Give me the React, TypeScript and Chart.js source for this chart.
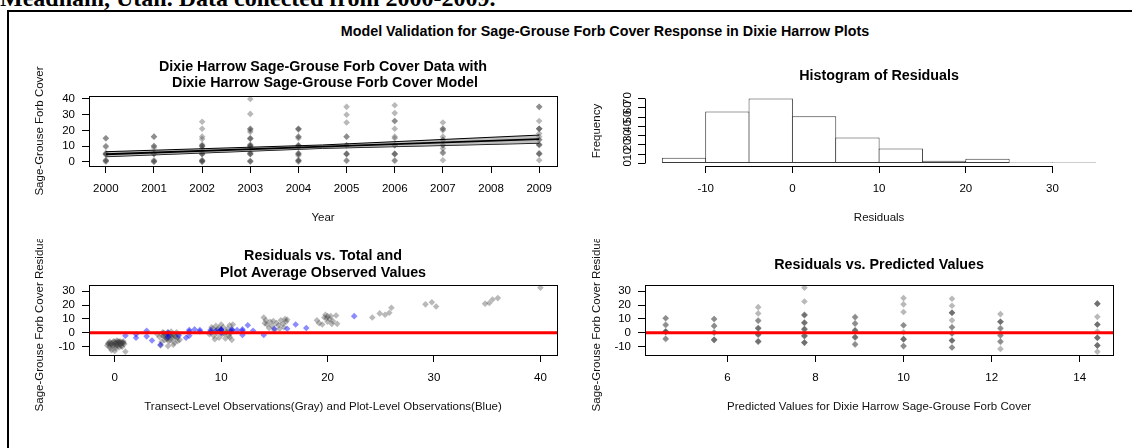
import React, { useEffect, useRef } from "react";
import { Chart, registerables } from "chart.js";

Chart.register(...registerables);

// ---------------- text ----------------
const HEADER_TEXT = "Meadham, Utah. Data collected from 2000-2009.";
const MAIN_TITLE = "Model Validation for Sage-Grouse Forb Cover Response in Dixie Harrow Plots";

const P1_TITLE = ["Dixie Harrow Sage-Grouse Forb Cover Data with", " Dixie Harrow Sage-Grouse Forb Cover Model"];
const P1_X_TITLE = "Year";
const P1_Y_TITLE = "Sage-Grouse Forb Cover";
const P2_TITLE = ["Histogram of Residuals"];
const P2_X_TITLE = "Residuals";
const P2_Y_TITLE = "Frequency";
const P3_TITLE = ["Residuals vs. Total and", "Plot Average Observed Values"];
const P3_X_TITLE = "Transect-Level Observations(Gray) and Plot-Level Observations(Blue)";
const P3_Y_TITLE = "Sage-Grouse Forb Cover Residuals";
const P4_TITLE = ["Residuals vs. Predicted Values"];
const P4_X_TITLE = "Predicted Values for Dixie Harrow Sage-Grouse Forb Cover";
const P4_Y_TITLE = "Sage-Grouse Forb Cover Residuals";

// ---------------- ticks ----------------
const P1_X_TICKS = [2000, 2001, 2002, 2003, 2004, 2005, 2006, 2007, 2008, 2009];
const P1_Y_TICKS = [0, 10, 20, 30, 40];
const P2_X_TICKS = [-10, 0, 10, 20, 30];
const P2_Y_TICKS = [0, 10, 20, 30, 40, 50, 60, 70];
const P3_X_TICKS = [0, 10, 20, 30, 40];
const P3_Y_TICKS = [-10, 0, 10, 20, 30];
const P4_X_TICKS = [6, 8, 10, 12, 14];
const P4_Y_TICKS = [-10, 0, 10, 20, 30];

// ---------------- panel 1 data ----------------
const SURVEY_YEARS = [2000, 2001, 2002, 2003, 2004, 2005, 2006, 2007, 2009];
const COVER_2000 = [15, 15, 10, 9.5, 5.5, 5, 5, 4.5, 1, 1, 0.5, 0];
const COVER_2001 = [16, 16, 10, 10, 9, 5.5, 5, 5, 1, 0.5, 0, 0];
const COVER_2002 = [25.5, 21, 16, 14.5, 11, 10, 10, 10, 8.5, 6, 5, 5, 5, 1, 1, 0.5, 0, 0];
const COVER_2003 = [40, 30.5, 21, 21, 20, 19, 15, 15, 14.5, 11, 10.5, 10, 10, 9.5, 6, 5, 5, 5, 0.5, 0.5, 0];
const COVER_2004 = [21, 21, 20.5, 16, 16, 15, 10.5, 10.5, 10, 9.5, 5.5, 5, 5, 4, 1, 1, 0.5, 0];
const COVER_2005 = [35, 30, 25, 16, 16, 10.5, 10.5, 5, 5, 5, 1, 0.5];
const COVER_2006 = [36, 31, 26, 26, 21, 16, 15, 10.5, 10.5, 5, 5, 5, 1, 0.5];
const COVER_2007 = [25, 21, 21, 20, 16, 14, 14, 10.5, 10.5, 8.5, 6, 5.5, 1];
const COVER_2009 = [35, 35, 26, 21, 21, 21, 18, 16, 14, 14, 11, 11, 10.5, 5.5, 5, 5, 1];
const COVER_BY_YEAR = [COVER_2000, COVER_2001, COVER_2002, COVER_2003, COVER_2004, COVER_2005, COVER_2006, COVER_2007, COVER_2009];

const FIT_YEARS = [2000, 2004.5, 2009];
const FIT_COVER = [4.8, 9.6, 14.4];
const FIT_UPPER = [6.4, 10.7, 17.0];
const FIT_LOWER = [3.2, 8.5, 11.8];

// ---------------- panel 2 data ----------------
const HIST_BIN_CENTERS = [-12.5, -7.5, -2.5, 2.5, 7.5, 12.5, 17.5, 22.5, 27.5, 32.5];
const HIST_COUNTS = [6, 56, 70, 51, 28, 16, 3, 5, 1, 1];

// ---------------- panel 3 data ----------------
const TRANSECT_OBS = [
  -0.6, -0.5, -0.4, -0.3, -0.2, -0.1, 0, 0.1, 0.2, 0.3, 0.4, 0.5, 0.6, 0.7, 0.8, 0.9, 1.0, -0.7, 0.2, 0.5, -0.4, 0.6, 0, 0.3, -0.2, 0.8, 0.1, -0.5, 0.4, 0.7,
  -0.6, -0.3, 0, 0.2, 0.4, 0.6, 0.8, -0.1, 0.3, 0.5, -0.4, 0.1,
  4, 4.2, 4.3, 4.5, 4.6, 4.7, 4.8, 4.9, 5, 5, 5.1, 5.2, 5.3, 5.4, 5.5, 5.6, 5.7, 5.8, 5.9, 6, 6.1, 4.4, 5.5, 5, 4.6, 5.9, 5.2,
  4.5, 4.8, 5.1, 5.4, 5.7, 4.9, 5.3,
  9, 9.2, 9.3, 9.5, 9.6, 9.8, 10, 10, 10.1, 10.2, 10.4, 10.5, 10.6, 10.7, 10.8, 10.9, 11, 11, 9.4, 9.7, 10.3, 9.1, 10.8, 8.9, 11.1,
  9.5, 10, 10.5, 10.9, 9.8,
  14, 14.2, 14.3, 14.5, 14.6, 14.8, 15, 15.2, 15.4, 15.6, 15.8, 16, 16.1, 15.5, 14.1, 14.9, 15.9, 16.2,
  19, 19.2, 19.5, 19.7, 19.8, 20, 20, 20.2, 20.4, 20.5, 20.8, 20.9, 19.9, 20.3,
  24.2, 24.9, 25.4, 25.8, 26, 29.2, 29.8, 30.2, 34.8, 35.2, 35.5, 36, 40,
];
const TRANSECT_RESID = [
  -8, -10, -7, -12.5, -9, -6, -8, -11, -7, -9, -6.5, -8.5, -7, -10, -6, -8, -13.5, -9, -5.5, -6, -11, -9.5, -13, -7.5, -7, -7.5, -9.5, -6.5, -10.5, -7,
  -7.5, -8, -6.5, -8.5, -7.5, -8, -7, -9, -6, -7, -8.5, -7.5,
  -1, -3, -9, 0.5, -2, -5, -1, -4, 0, -3, -6, -2, 1, -4, -1, -7, -2.5, 0.5, -3.5, -1, -5, -6.5, -8.5, -9.5, 0, -6, -5,
  -2, -3, -1.5, -2.5, -3, -4.5, -1,
  1, 3, -2, 5, 0, -3.5, 2, 6, -1, 4, -4, 1, 3, -2, 5.5, 0, 2.5, -5, -4.5, 2.5, -0.5, 4, -3, -1, 6,
  1.5, 2, 0.5, 1, 3.5,
  11, 9, 6, 3.5, 8, 5, 2, 7, 5.5, 9, 6.5, 10, 8, 3, 7, 8.5, 4, 9.5,
  9, 7, 6, 11, 13, 12, 8, 10, 6.5, 8.5, 12.5, 6.5, 10.5, 12,
  11, 14, 13, 14.5, 18, 20.5, 22, 19, 21, 21.5, 24, 25, 32.5,
];
const PLOT_OBS = [1, 2, 2, 3, 3, 3.5, 4.3, 5, 5, 5, 6, 6.7, 7, 7, 7, 7.5, 8, 8, 9, 9, 9.5, 10, 10, 10, 11, 11, 11.5, 12, 12, 12, 12.5, 13, 14, 15, 16.2, 17, 18, 22.5];
const PLOT_RESID = [-2, -1, -3.5, 1.5, -2.5, -5.5, -8.5, -1, -3, 0.5, -2, -3.5, -2, 1, 2, 2.5, 1, 2, 2, 0.5, 1.5, 2, 0, 2.5, 1.5, 2.5, 2, 2.5, -1.5, 1.5, 5.5, 1.5, -1.5, 3, 3, 6, 3.5, 12];

// ---------------- panel 4 data ----------------
const PRED_LEVELS = [4.6, 5.7, 6.7, 7.75, 8.9, 10.0, 11.1, 12.2, 14.4];
const RESID_AT_4_6 = [10.5, 10.5, 6, 5.5, 1, 1, 1, 0.5, -4, -4.5];
const RESID_AT_5_7 = [10, 10, 5, 5, 0.5, 0, -5, -5, -5];
const RESID_AT_6_7 = [18.5, 14, 9, 8.5, 3.5, 3.5, 3, -1, -1, -1.5, -6, -6, -6.5];
const RESID_AT_7_75 = [32.5, 22.5, 13, 13, 12.5, 7.5, 7.5, 7, 3, 2.5, 2.5, -2, -2, -2.5, -7, -7, -7];
const RESID_AT_8_9 = [11.5, 11, 7, 6.5, 2, 1.5, 1.5, -3, -3.5, -3, -8, -8.5];
const RESID_AT_10_0 = [25, 20.5, 15, 5.5, 5.5, 0.5, -4.5, -4.5, -4.5, -9.5, -9.5];
const RESID_AT_11_1 = [24.5, 19.5, 14.5, 14.5, 14.5, 9, 4, 4, -0.5, -0.5, -5.5, -5.5, -5.5, -10.5, -10.5];
const RESID_AT_12_2 = [13.5, 8, 8, 8, 3.5, 3, -1.5, -2, -6.5, -6, -11.5];
const RESID_AT_14_4 = [21, 21, 21, 11.5, 6, 6, 6, 1, -3.5, -3.5, -3.5, -9, -9, -9, -13.5];
const RESID_BY_PRED = [RESID_AT_4_6, RESID_AT_5_7, RESID_AT_6_7, RESID_AT_7_75, RESID_AT_8_9, RESID_AT_10_0, RESID_AT_11_1, RESID_AT_12_2, RESID_AT_14_4];

const REF_LINE_VALUE = 0;

// ---------------- style ----------------
const FONT = "'Liberation Sans', Arial, Helvetica, sans-serif";
const TICK_SIZE = 11.5;
const LAB_SIZE = 11.5;
const TITLE_SIZE = 14.3;
const GRAY_PT = "rgba(60,60,60,0.36)";
const BLUE_PT = "rgba(0,0,255,0.45)";
const PT_RADIUS = 3.3;
const Y_AXIS_W = 40;
const X_AXIS_H = 40;

type Geo = {
  canvas: { x: number; y: number; w: number; h: number };
  area: { L: number; T: number; R: number; B: number };
  titleY: number[];
  xTitleY: number;
  yTitleX: number;
};

const GEO_P1: Geo = { canvas: { x: 10, y: 40, w: 570, h: 198 }, area: { L: 89, T: 96, R: 557, B: 166 }, titleY: [66.7, 83.3], xTitleY: 218, yTitleX: 40 };
const GEO_P2: Geo = { canvas: { x: 580, y: 40, w: 552, h: 198 }, area: { L: 645, T: 96, R: 1113.2, B: 166 }, titleY: [76], xTitleY: 218, yTitleX: 597 };
const GEO_P3: Geo = { canvas: { x: 10, y: 239, w: 570, h: 209 }, area: { L: 89, T: 285, R: 557, B: 355 }, titleY: [255.7, 273.3], xTitleY: 407, yTitleX: 40 };
const GEO_P4: Geo = { canvas: { x: 580, y: 239, w: 552, h: 209 }, area: { L: 645, T: 285, R: 1113.2, B: 355 }, titleY: [264.7], xTitleY: 406.7, yTitleX: 597 };

function layoutPadding(g: Geo) {
  return {
    left: g.area.L - g.canvas.x - Y_AXIS_W,
    top: g.area.T - g.canvas.y,
    right: g.canvas.x + g.canvas.w - g.area.R,
    bottom: g.canvas.y + g.canvas.h - g.area.B - X_AXIS_H,
  };
}

const align = (p: number) => Math.round(p - 0.5) + 0.5;

const rDecor = {
  id: "rDecor",
  afterDatasetsDraw(chart: any, _args: any, o: any) {
    const { ctx, chartArea: a, scales } = chart;
    if (o.refLine !== undefined && o.refLine !== null) {
      ctx.save();
      ctx.beginPath();
      ctx.rect(a.left, a.top, a.right - a.left, a.bottom - a.top);
      ctx.clip();
      const y = scales.y.getPixelForValue(o.refLine);
      ctx.strokeStyle = "#ff0000";
      ctx.lineWidth = 3;
      ctx.beginPath();
      ctx.moveTo(a.left, y);
      ctx.lineTo(a.right, y);
      ctx.stroke();
      ctx.restore();
    }
    ctx.save();
    ctx.strokeStyle = "#000";
    ctx.lineWidth = 1;
    if (o.box) {
      const l = align(a.left), r = align(a.right), t = align(a.top), b = align(a.bottom);
      ctx.strokeRect(l, t, r - l, b - t);
    }
    if (o.axisLines) {
      const xt = o.xTicks, yt = o.yTicks;
      const yb = align(a.bottom);
      ctx.beginPath();
      ctx.moveTo(align(scales.x.getPixelForValue(xt[0])), yb);
      ctx.lineTo(align(scales.x.getPixelForValue(xt[xt.length - 1])), yb);
      const xl = align(a.left);
      ctx.moveTo(xl, align(scales.y.getPixelForValue(yt[0])));
      ctx.lineTo(xl, align(scales.y.getPixelForValue(yt[yt.length - 1])));
      ctx.stroke();
    }
    ctx.restore();
  },
  afterDraw(chart: any, _args: any, o: any) {
    const { ctx, chartArea: a } = chart;
    const cx = (a.left + a.right) / 2;
    ctx.save();
    ctx.fillStyle = "#000";
    ctx.textAlign = "center";
    ctx.textBaseline = "middle";
    ctx.font = `bold ${TITLE_SIZE}px ${FONT}`;
    (o.title || []).forEach((t: string, i: number) => ctx.fillText(t, cx, o.titleY[i]));
    ctx.font = `${LAB_SIZE}px ${FONT}`;
    ctx.fillStyle = "#111";
    ctx.fillText(o.xTitle, cx, o.xTitleY);
    ctx.translate(o.yTitleX, (a.top + a.bottom) / 2);
    ctx.rotate(-Math.PI / 2);
    ctx.fillText(o.yTitle, 0, 0);
    ctx.restore();
  },
};

function decorOpts(g: Geo, title: string[], xTitle: string, yTitle: string, extra: any) {
  return {
    title,
    titleY: g.titleY.map((v) => v - g.canvas.y),
    xTitle,
    xTitleY: g.xTitleY - g.canvas.y,
    yTitle,
    yTitleX: g.yTitleX - g.canvas.x,
    ...extra,
  };
}

function linAxis(min: number, max: number, ticks: number[], kind: "x" | "y", tickExtra: any = {}) {
  return {
    type: "linear",
    min,
    max,
    bounds: "data",
    offset: false,
    afterBuildTicks: (s: any) => {
      s.ticks = ticks.map((v) => ({ value: v }));
    },
    afterFit: (s: any) => {
      if (kind === "x") s.height = X_AXIS_H;
      else s.width = Y_AXIS_W;
    },
    grid: { display: true, drawOnChartArea: false, drawTicks: true, tickLength: 7, tickWidth: 1, tickColor: "#000", color: "#000", offset: false },
    border: { display: false },
    ticks: {
      autoSkip: false,
      color: "#000",
      font: { family: FONT, size: TICK_SIZE },
      padding: kind === "x" ? 9 : 7,
      maxRotation: 0,
      minRotation: 0,
      callback: (v: any) => String(v),
      ...tickExtra,
    },
  };
}

function baseOptions(g: Geo, scales: any, decor: any) {
  return {
    responsive: false,
    maintainAspectRatio: false,
    animation: false,
    devicePixelRatio: 1,
    events: [],
    layout: { padding: layoutPadding(g) },
    scales,
    plugins: {
      legend: { display: false },
      tooltip: { enabled: false },
      title: { display: false },
      rDecor: decor,
    },
  };
}

const diamond = (color: string, order: number) => ({
  pointStyle: "rectRot",
  pointRadius: PT_RADIUS,
  pointHoverRadius: PT_RADIUS,
  backgroundColor: color,
  borderWidth: 0,
  order,
});

function makeP1(): any {
  const pts = SURVEY_YEARS.flatMap((yr, i) => COVER_BY_YEAR[i].map((v) => ({ x: yr, y: v })));
  const line = (vals: number[], extra: any) => ({
    type: "line",
    data: FIT_YEARS.map((x, i) => ({ x, y: vals[i] })),
    pointRadius: 0,
    borderColor: "#000",
    tension: 0,
    ...extra,
  });
  return {
    type: "scatter",
    data: {
      datasets: [
        { data: pts, ...diamond(GRAY_PT, 5) },
        line(FIT_UPPER, { borderWidth: 1, fill: "+1", backgroundColor: "rgba(140,140,140,0.55)", order: 2 }),
        line(FIT_LOWER, { borderWidth: 1, fill: false, order: 2 }),
        line(FIT_COVER, { borderWidth: 1.8, fill: false, order: 1 }),
      ],
    },
    options: baseOptions(
      GEO_P1,
      { x: linAxis(1999.65, 2009.37, P1_X_TICKS, "x"), y: linAxis(-2.7, 41.9, P1_Y_TICKS, "y") },
      decorOpts(GEO_P1, P1_TITLE, P1_X_TITLE, P1_Y_TITLE, { box: true })
    ),
    plugins: [rDecor],
  };
}

function makeP2(): any {
  return {
    type: "bar",
    data: {
      datasets: [
        {
          data: HIST_BIN_CENTERS.map((x, i) => ({ x, y: HIST_COUNTS[i] })),
          backgroundColor: "#ffffff",
          borderColor: "#3a3a3a",
          borderWidth: 1,
          borderSkipped: false,
          barPercentage: 1.023,
          categoryPercentage: 1,
        },
      ],
    },
    options: baseOptions(
      GEO_P2,
      {
        x: linAxis(-17, 37, P2_X_TICKS, "x"),
        y: linAxis(-2.8, 72.8, P2_Y_TICKS, "y", { minRotation: 90, maxRotation: 90, crossAlign: "center", padding: 4 }),
      },
      decorOpts(GEO_P2, P2_TITLE, P2_X_TITLE, P2_Y_TITLE, { axisLines: true, xTicks: P2_X_TICKS, yTicks: P2_Y_TICKS })
    ),
    plugins: [rDecor],
  };
}

function makeP3(): any {
  return {
    type: "scatter",
    data: {
      datasets: [
        { data: TRANSECT_OBS.map((x, i) => ({ x, y: TRANSECT_RESID[i] })), ...diamond(GRAY_PT, 2) },
        { data: PLOT_OBS.map((x, i) => ({ x, y: PLOT_RESID[i] })), ...diamond(BLUE_PT, 1) },
      ],
    },
    options: baseOptions(
      GEO_P3,
      { x: linAxis(-2.42, 41.56, P3_X_TICKS, "x"), y: linAxis(-15.9, 34.4, P3_Y_TICKS, "y") },
      decorOpts(GEO_P3, P3_TITLE, P3_X_TITLE, P3_Y_TITLE, { box: true, refLine: REF_LINE_VALUE })
    ),
    plugins: [rDecor],
  };
}

function makeP4(): any {
  const pts = PRED_LEVELS.flatMap((p, i) => RESID_BY_PRED[i].map((r) => ({ x: p, y: r })));
  return {
    type: "scatter",
    data: { datasets: [{ data: pts, ...diamond(GRAY_PT, 1) }] },
    options: baseOptions(
      GEO_P4,
      { x: linAxis(4.13, 14.76, P4_X_TICKS, "x"), y: linAxis(-15.9, 34.4, P4_Y_TICKS, "y") },
      decorOpts(GEO_P4, P4_TITLE, P4_X_TITLE, P4_Y_TITLE, { box: true, refLine: REF_LINE_VALUE })
    ),
    plugins: [rDecor],
  };
}

function Panel({ geo, make }: { geo: Geo; make: () => any }) {
  const ref = useRef<HTMLCanvasElement | null>(null);
  useEffect(() => {
    if (!ref.current) return;
    const chart = new Chart(ref.current, make());
    return () => chart.destroy();
  }, []);
  const { x, y, w, h } = geo.canvas;
  return (
    <canvas
      ref={ref}
      width={w}
      height={h}
      style={{ position: "absolute", left: x, top: y, width: w, height: h, display: "block" }}
    />
  );
}

export default function App() {
  return (
    <div style={{ position: "fixed", left: 0, top: 0, width: 1132, height: 448, overflow: "hidden", background: "#fff" }}>
      <div
        style={{
          position: "absolute",
          left: 0,
          top: -14,
          whiteSpace: "nowrap",
          font: "bold 24px 'Liberation Serif', 'Times New Roman', serif",
          lineHeight: "24px",
          color: "#000",
        }}
      >
        {HEADER_TEXT}
      </div>
      <div
        style={{
          position: "absolute",
          left: 7,
          top: 10,
          width: 1300,
          height: 600,
          border: "2px solid #000",
          boxSizing: "border-box",
        }}
      />
      <div
        style={{
          position: "absolute",
          left: 0,
          top: 22.5,
          width: 1210,
          textAlign: "center",
          font: `bold ${TITLE_SIZE}px ${FONT}`,
          lineHeight: "16px",
          color: "#000",
          whiteSpace: "nowrap",
        }}
      >
        {MAIN_TITLE}
      </div>
      <Panel geo={GEO_P1} make={makeP1} />
      <Panel geo={GEO_P2} make={makeP2} />
      <Panel geo={GEO_P3} make={makeP3} />
      <Panel geo={GEO_P4} make={makeP4} />
    </div>
  );
}
